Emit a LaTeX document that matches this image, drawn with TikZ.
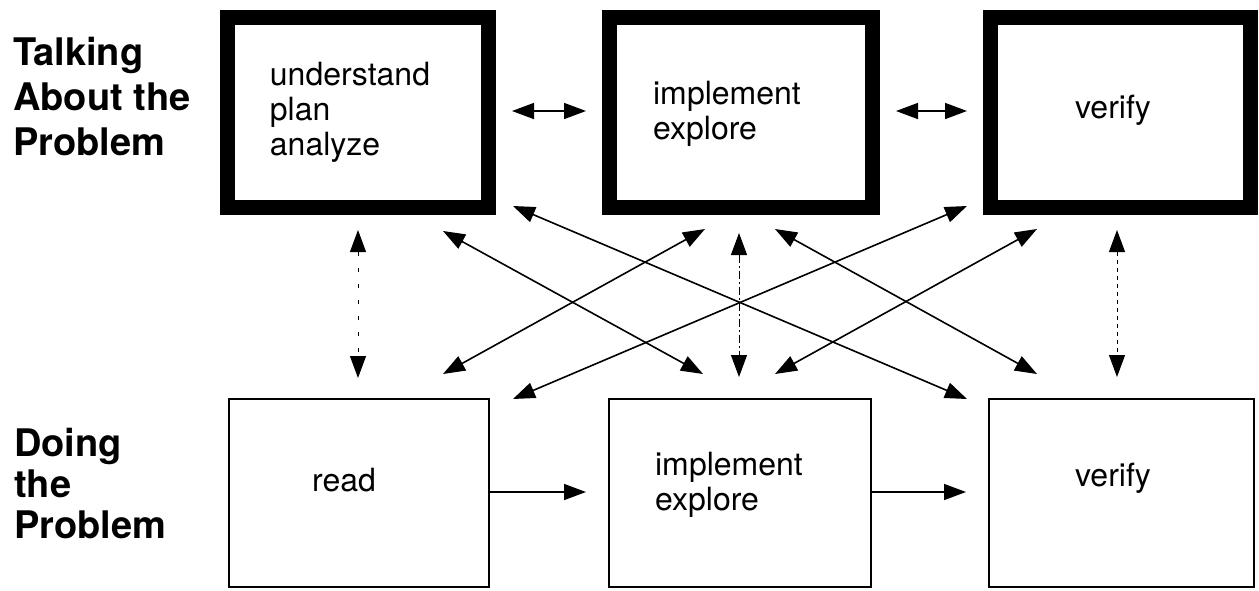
\documentclass[tikz,border=0pt]{standalone}
\usepackage{fontspec}
\setmainfont{TeX Gyre Heros}
\usetikzlibrary{arrows.meta}
\begin{document}
\begin{tikzpicture}[x=1pt,y=-1pt,
  tbox/.style={draw, line width=15pt, minimum height=190pt, inner sep=0pt},
  dbox/.style={draw, line width=1.8pt, minimum height=188pt, inner sep=0pt},
  btxt/.style={font=\fontsize{32}{35}\selectfont, align=left, inner sep=0pt},
  lbl/.style={font=\bfseries\fontsize{38}{45}\selectfont, align=left, anchor=north west, inner sep=0pt},
  tip/.style={Triangle[length=22pt,width=16pt]},
  link/.style={line width=1.6pt, {Triangle[length=22pt,width=16pt]}-{Triangle[length=22pt,width=16pt]}},
  flow/.style={line width=1.6pt, -{Triangle[length=22pt,width=16pt]}},
  vsparse/.style={link, line width=1pt, dash pattern=on 4pt off 12pt},
  vdashdot/.style={link, line width=1pt, dash pattern=on 8pt off 3pt on 2pt off 3pt},
  vdash/.style={link, line width=1pt, dash pattern=on 4pt off 4pt}
]
\useasboundingbox (0,0) rectangle (1259,590);
% labels
\node[lbl] (L1) at (13,37) {Talking\\About the\\Problem};
\node[lbl, font=\bfseries\fontsize{38}{41}\selectfont] (L2) at (14,428) {Doing\\the\\Problem};
% top boxes
\node[tbox, minimum width=261pt] (A) at (358,112.5) {};
\node[tbox, minimum width=263pt] (B) at (741,112.5) {};
\node[tbox, minimum width=260pt] (C) at (1120.5,112.5) {};
% bottom boxes
\node[dbox, minimum width=260pt] (D) at (359,493) {};
\node[dbox, minimum width=262pt] (E) at (740,493) {};
\node[dbox, minimum width=265pt] (F) at (1121.5,493) {};
% texts
\node[btxt] (tA) at (350,112) {understand\\plan\\analyze};
\node[btxt] (tB) at (727,114) {implement\\explore};
\node[btxt] (tC) at (1113,110) {verify};
\node[btxt] (tD) at (344,480) {read};
\node[btxt] (tE) at (729,485) {implement\\explore};
\node[btxt] (tF) at (1113,478) {verify};
% connector ends
\coordinate (ab1) at (512,111);  \coordinate (ab2) at (586,111);
\coordinate (bc1) at (896,111);  \coordinate (bc2) at (967,111);
\coordinate (ad1) at (358,230);  \coordinate (ad2) at (358,378);
\coordinate (be1) at (739,233);  \coordinate (be2) at (739,377);
\coordinate (cf1) at (1117,230); \coordinate (cf2) at (1117,377);
\coordinate (ae1) at (443,231);  \coordinate (ae2) at (703,374);
\coordinate (bd1) at (705,229);  \coordinate (bd2) at (443,374);
\coordinate (af1) at (513,206);  \coordinate (af2) at (967,399);
\coordinate (cd1) at (967,206);  \coordinate (cd2) at (513,399);
\coordinate (bf1) at (775,229);  \coordinate (bf2) at (1037,374);
\coordinate (ce1) at (1037,229); \coordinate (ce2) at (775,374);
\coordinate (de2) at (586,492);
\coordinate (ef2) at (966,492);
% connectors
\draw[link] (ab1) -- (ab2);
\draw[link] (bc1) -- (bc2);
\draw[vsparse] (ad1) -- (ad2);
\draw[vdashdot] (be1) -- (be2);
\draw[vdash] (cf1) -- (cf2);
\draw[link] (ae1) -- (ae2);
\draw[link] (bd1) -- (bd2);
\draw[link] (af1) -- (af2);
\draw[link] (cd1) -- (cd2);
\draw[link] (bf1) -- (bf2);
\draw[link] (ce1) -- (ce2);
\draw[flow] (D.east |- de2) -- (de2);
\draw[flow] (E.east |- ef2) -- (ef2);
\end{tikzpicture}
\end{document}
